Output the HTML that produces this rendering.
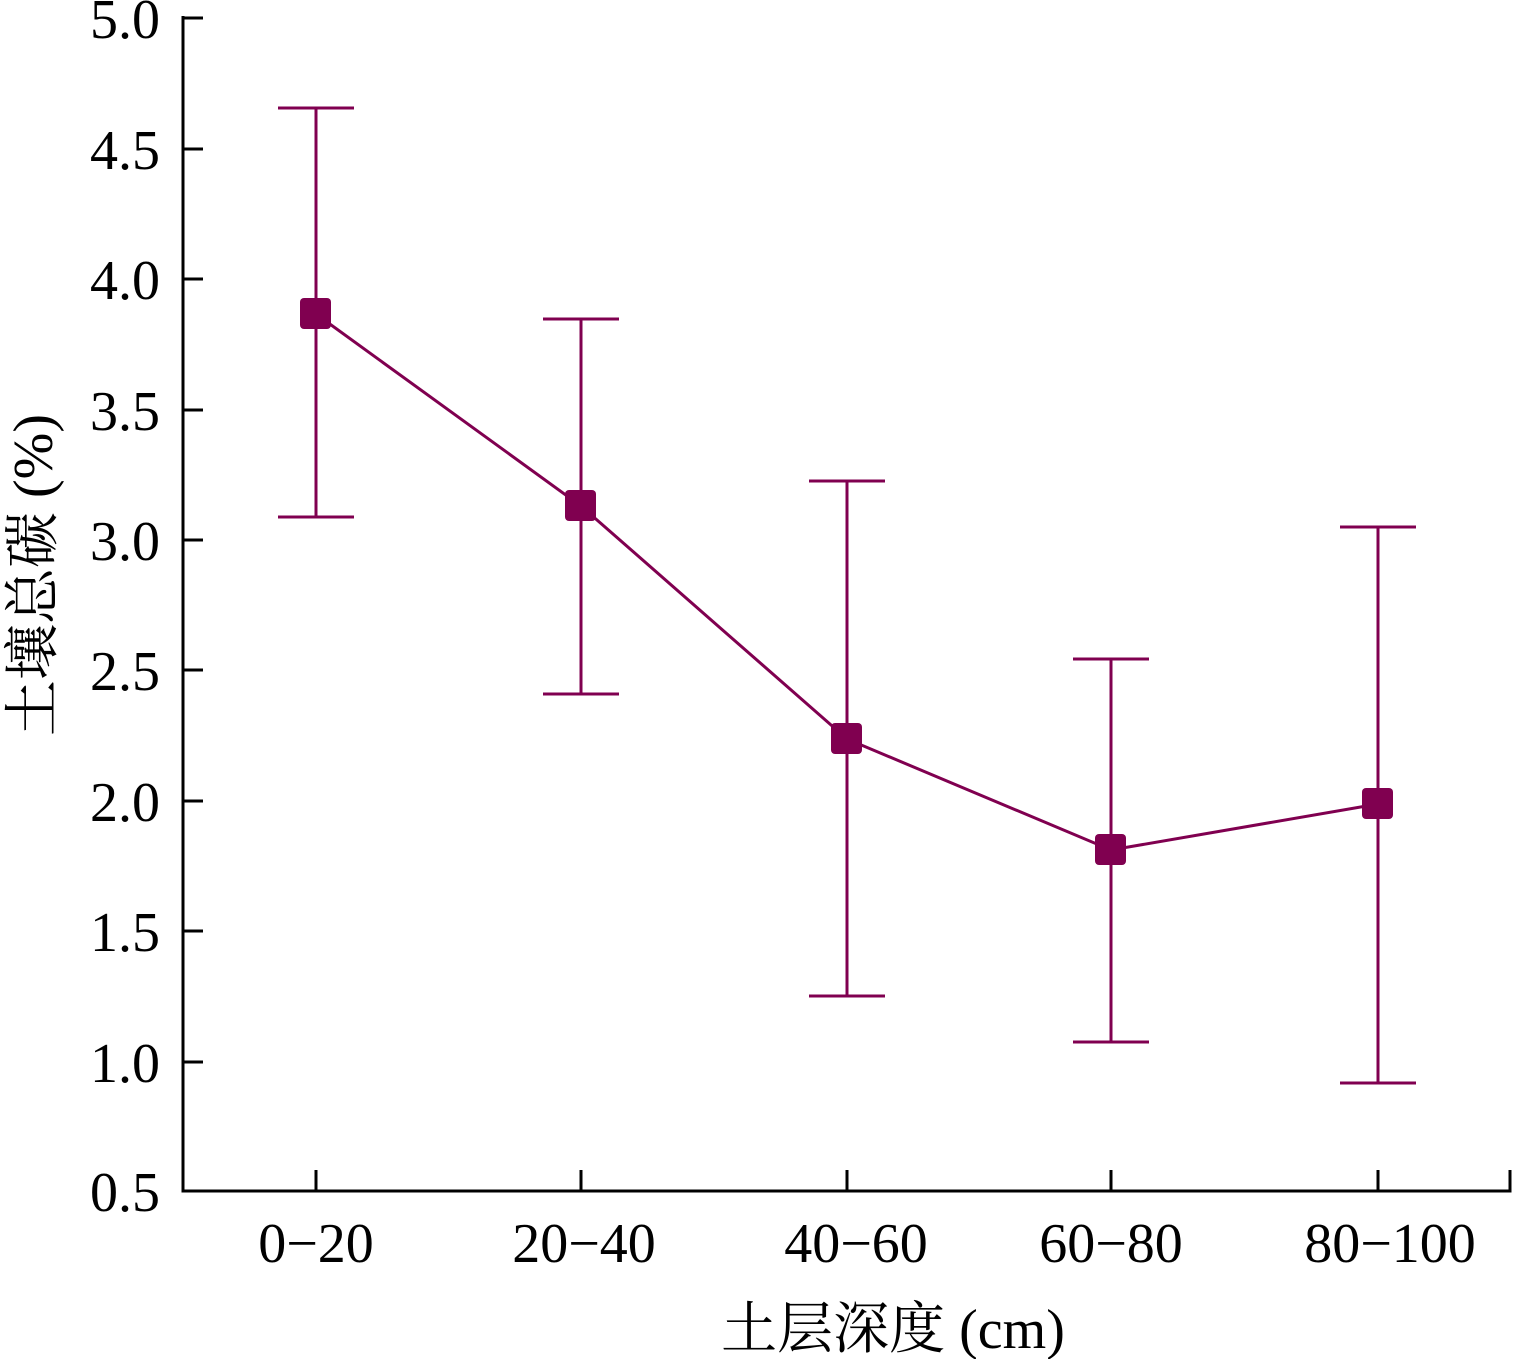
<!DOCTYPE html>
<html><head><meta charset="utf-8"><style>body{margin:0;background:#fff}</style></head><body>
<svg width="1515" height="1359" xmlns="http://www.w3.org/2000/svg" font-family="Liberation Serif, Noto Serif CJK SC, serif">
<g stroke="#000" stroke-width="3" fill="none">
<path d="M183,16 V1191 H1510 V1170"/>
<path d="M183,18 h20 M183,149 h20 M183,279 h20 M183,410 h20 M183,540 h20 M183,670 h20 M183,801 h20 M183,931 h20 M183,1062 h20"/>
<path d="M316,1191 v-21 M581,1191 v-21 M847,1191 v-21 M1111,1191 v-21 M1378,1191 v-21"/>
</g>
<g font-size="56" text-anchor="end">
<text x="160" y="38">5.0</text><text x="160" y="169">4.5</text><text x="160" y="299">4.0</text><text x="160" y="430">3.5</text><text x="160" y="560">3.0</text><text x="160" y="690">2.5</text><text x="160" y="821">2.0</text><text x="160" y="951">1.5</text><text x="160" y="1082">1.0</text><text x="160" y="1211">0.5</text>
</g>
<g font-size="56" text-anchor="middle">
<text x="316" y="1262">0−20</text><text x="584" y="1262">20−40</text><text x="856" y="1262">40−60</text><text x="1111" y="1262">60−80</text><text x="1390" y="1262">80−100</text>
<text x="893" y="1348" font-family="Liberation Serif, Noto Serif CJK SC, serif">土层深度 (cm)</text>
<text transform="translate(52,575) rotate(-90)">土壤总碳 (%)</text>
</g>
<g stroke="#800050" stroke-width="3" fill="none">
<polyline points="316,314 581,506 847,739 1111,850 1378,804"/>
<path d="M316,108 V517 M278,108 h76 M278,517 h76"/>
<path d="M581,319 V694 M543,319 h76 M543,694 h76"/>
<path d="M847,481 V996 M809,481 h76 M809,996 h76"/>
<path d="M1111,659 V1042 M1073,659 h76 M1073,1042 h76"/>
<path d="M1378,527 V1083 M1340,527 h76 M1340,1083 h76"/>
</g>
<g fill="#800050">
<rect x="300" y="298" width="31" height="31" rx="4"/>
<rect x="565" y="490" width="31" height="31" rx="4"/>
<rect x="831" y="723" width="31" height="31" rx="4"/>
<rect x="1095" y="834" width="31" height="31" rx="4"/>
<rect x="1362" y="788" width="31" height="31" rx="4"/>
</g>
</svg>
</body></html>
